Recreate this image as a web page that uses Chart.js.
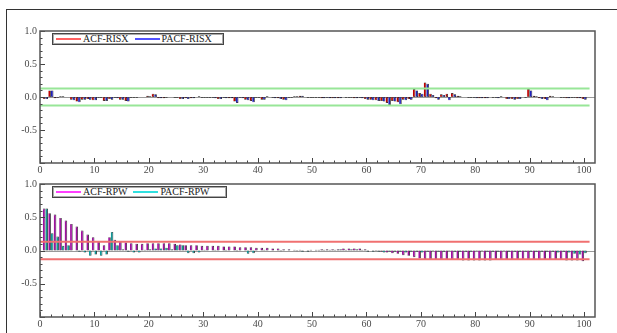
<!DOCTYPE html>
<html>
<head>
<meta charset="utf-8">
<script src="https://cdn.jsdelivr.net/npm/chart.js@4.4.1/dist/chart.umd.min.js"></script>
<style>
  html, body { margin: 0; padding: 0; background: #fff; overflow: hidden; }
  body { position: relative; width: 617px; height: 333px; }
  .frame { position: absolute; left: 6px; top: 9px; width: 640px; height: 360px; border: 1px solid #333; }
  canvas { position: absolute; left: 0; }
  .legend {
    position: absolute; box-sizing: border-box; border: 1px solid #444; box-shadow: inset 0 0 0 1px #aaa;
    background: #fff; display: flex; align-items: center; font: 10px "Liberation Serif", serif; color: #222;
    padding-left: 3px; white-space: nowrap; line-height: 10px; overflow: hidden;
  }
  .legend .key { display: inline-block; flex: none; width: 25px; height: 2px; margin-right: 2px; }
  .legend .gap { display: inline-block; flex: none; width: 6px; }
</style>
</head>
<body>
<div class="frame"></div>
<canvas id="risx" width="617" height="175" style="top:0"></canvas>
<canvas id="rpw" width="617" height="158" style="top:175px"></canvas>
<div class="legend" id="legendRisx" style="left:52px;top:33px;width:172px;height:12px"></div>
<div class="legend" id="legendRpw" style="left:52px;top:186px;width:175px;height:12px"></div>
<script>
const lags = Array.from({ length: 100 }, (_, i) => i + 1);
const xTicks = [0, 10, 20, 30, 40, 50, 60, 70, 80, 90, 100];
const yTicks = [-0.5, 0, 0.5, 1];
const confBand = 0.13;
const bandEnd = 101;

const acfRisx = [
  -0.03, 0.10, -0.02, 0.01, 0.00, -0.04, -0.07, -0.04, -0.03, -0.05,
  -0.01, -0.06, -0.03, -0.01, -0.04, -0.06, -0.01, -0.01, 0.00, 0.02,
  0.05, -0.02, -0.02, 0.00, -0.01, -0.03, -0.02, -0.02, 0.00, -0.01,
  -0.01, -0.01, -0.03, -0.01, -0.02, -0.07, -0.01, -0.04, -0.06, -0.01,
  -0.04, 0.01, -0.01, -0.02, -0.04, -0.01, 0.01, 0.02, 0.00, -0.01,
  -0.01, -0.02, -0.01, -0.02, -0.02, 0.00, -0.01, -0.02, -0.01, -0.03,
  -0.04, -0.05, -0.06, -0.09, -0.06, -0.08, -0.04, -0.03, 0.12, 0.06,
  0.22, 0.05, -0.02, 0.04, 0.05, 0.06, 0.02, 0.00, -0.01, -0.01,
  -0.02, -0.02, 0.00, -0.01, 0.01, -0.03, -0.03, -0.03, 0.00, 0.12,
  0.02, -0.02, -0.03, 0.02, 0.00, -0.01, -0.02, -0.01, -0.02, -0.03,
];
const pacfRisx = [
  -0.03, 0.10, -0.01, 0.01, 0.00, -0.05, -0.08, -0.04, -0.04, -0.05,
  -0.01, -0.06, -0.04, -0.02, -0.04, -0.07, -0.01, 0.00, 0.00, 0.01,
  0.04, -0.02, -0.01, 0.00, -0.01, -0.03, -0.03, -0.02, 0.01, -0.01,
  -0.01, -0.02, -0.03, -0.02, -0.02, -0.09, -0.02, -0.05, -0.08, -0.01,
  -0.04, 0.00, -0.02, -0.03, -0.05, -0.01, 0.01, 0.02, -0.01, -0.01,
  -0.01, -0.02, -0.02, -0.02, -0.02, -0.01, -0.01, -0.02, -0.02, -0.04,
  -0.05, -0.06, -0.07, -0.12, -0.07, -0.11, -0.05, -0.04, 0.10, 0.05,
  0.20, 0.03, -0.04, 0.03, -0.05, 0.04, 0.01, 0.00, -0.01, -0.02,
  -0.02, -0.02, -0.01, -0.02, 0.00, -0.03, -0.04, -0.03, -0.01, 0.10,
  0.01, -0.03, -0.05, 0.01, 0.00, -0.01, -0.02, -0.01, -0.02, -0.04,
];
const acfRpw = [
  0.63, 0.56, 0.54, 0.49, 0.45, 0.40, 0.36, 0.30, 0.24, 0.20,
  0.14, 0.08, 0.20, 0.16, 0.13, 0.12, 0.11, 0.10, 0.10, 0.11,
  0.11, 0.11, 0.11, 0.11, 0.10, 0.09, 0.08, 0.08, 0.08, 0.07,
  0.07, 0.07, 0.07, 0.06, 0.06, 0.06, 0.05, 0.05, 0.05, 0.04,
  0.04, 0.04, 0.03, 0.03, 0.02, 0.02, 0.01, 0.01, 0.00, 0.01,
  0.01, 0.02, 0.02, 0.02, 0.02, 0.03, 0.03, 0.03, 0.03, 0.02,
  0.00, -0.01, -0.02, -0.03, -0.04, -0.05, -0.07, -0.08, -0.10, -0.12,
  -0.13, -0.13, -0.14, -0.14, -0.14, -0.14, -0.14, -0.15, -0.15, -0.15,
  -0.15, -0.15, -0.15, -0.14, -0.14, -0.14, -0.14, -0.14, -0.14, -0.14,
  -0.14, -0.14, -0.14, -0.14, -0.14, -0.14, -0.15, -0.15, -0.15, -0.16,
];
const pacfRpw = [
  0.63, 0.26, 0.21, 0.07, 0.08, 0.00, -0.02, -0.03, -0.08, -0.06,
  -0.08, -0.06, 0.28, 0.08, 0.02, -0.02, -0.03, -0.03, 0.01, 0.02,
  0.03, 0.03, 0.04, 0.02, 0.08, 0.08, -0.04, -0.04, -0.03, 0.01,
  0.00, 0.01, 0.00, 0.01, 0.00, -0.01, 0.00, -0.05, -0.04, 0.00,
  0.01, 0.00, 0.00, -0.01, 0.00, 0.00, -0.01, -0.02, -0.02, 0.00,
  0.01, 0.01, 0.01, 0.01, 0.02, 0.01, 0.02, 0.02, 0.01, -0.02,
  -0.02, -0.02, -0.03, -0.02, -0.02, -0.02, -0.03, -0.02, -0.02, -0.03,
  -0.02, -0.01, -0.02, -0.02, -0.01, -0.02, -0.02, -0.02, -0.02, -0.01,
  -0.01, -0.02, -0.02, -0.02, -0.01, -0.02, -0.02, -0.02, -0.02, -0.02,
  -0.02, -0.02, -0.02, -0.02, -0.03, -0.02, -0.03, -0.05, -0.06, -0.04,
];

const tickFont = { family: '"Liberation Serif", serif', size: 10 };

// axis frame, inward ticks and the zero line, like the original package draws them
const frameTicks = {
  id: 'frameTicks',
  beforeDatasetsDraw(chart) {
    const { ctx, chartArea: a, scales: { y } } = chart;
    const py = Math.round(y.getPixelForValue(0)) + 0.5;
    ctx.save();
    ctx.strokeStyle = '#999';
    ctx.lineWidth = 1;
    ctx.beginPath();
    ctx.moveTo(a.left, py);
    ctx.lineTo(a.right, py);
    ctx.stroke();
    ctx.restore();
  },
  afterDraw(chart) {
    const { ctx, chartArea: a, scales: { x, y } } = chart;
    ctx.save();
    ctx.strokeStyle = '#444';
    ctx.lineWidth = 1;
    ctx.beginPath();
    for (let v = 0; v <= 100; v += 2) {
      const px = Math.round(x.getPixelForValue(v)) + 0.5;
      const len = v % 10 === 0 ? 5 : 2.5;
      ctx.moveTo(px, a.bottom);
      ctx.lineTo(px, a.bottom - len);
    }
    for (let i = -10; i <= 10; i++) {
      const py = Math.round(y.getPixelForValue(i / 10)) + 0.5;
      const len = i % 5 === 0 ? 5 : 2.5;
      ctx.moveTo(a.left, py);
      ctx.lineTo(a.left + len, py);
    }
    ctx.stroke();
    ctx.lineWidth = 1.5;
    ctx.strokeStyle = '#555';
    ctx.strokeRect(a.left, a.top, a.width, a.height);
    ctx.restore();
  },
};

function renderLegend(id, items) {
  document.getElementById(id).innerHTML = items
    .map((item, i) => `${i ? '<span class="gap"></span>' : ''}<span class="key" style="background:${item.color}"></span><span>${item.label}</span>`)
    .join('');
}

function renderCorrelogram(canvasId, opts) {
  const canvas = document.getElementById(canvasId);
  const band = (sign) => ({
    type: 'line',
    data: [{ x: 0, y: sign * confBand }, { x: bandEnd, y: sign * confBand }],
    borderColor: opts.bandColor,
    borderWidth: 2,
    pointRadius: 0,
    order: 0,
  });
  const bars = (values, color) => ({
    type: 'bar',
    data: lags.map((lag, i) => ({ x: lag, y: values[i] })),
    backgroundColor: color,
    borderColor: '#1a1a1a',
    borderWidth: { left: 0, right: 0.8, top: 0.6, bottom: 0.6 },
    borderSkipped: false,
    categoryPercentage: 0.95,
    barPercentage: 1,
    order: 1,
  });
  return new Chart(canvas, {
    type: 'bar',
    data: {
      datasets: [
        bars(opts.acf, opts.acfColor),
        bars(opts.pacf, opts.pacfColor),
        band(1),
        band(-1),
      ],
    },
    options: {
      responsive: false,
      animation: false,
      layout: { padding: { top: opts.top, right: 22, left: 0, bottom: 0 } },
      plugins: { legend: { display: false }, tooltip: { enabled: false } },
      scales: {
        x: {
          type: 'linear',
          offset: false,
          min: 0,
          max: 102,
          grid: { display: false, drawTicks: false, offset: false },
          border: { display: false },
          afterBuildTicks: (s) => { s.ticks = xTicks.map((value) => ({ value })); },
          afterFit: (s) => { s.height = opts.axisHeight; },
          ticks: { font: tickFont, color: '#4a4a4a', padding: 1, maxRotation: 0, autoSkip: false },
        },
        y: {
          min: -1,
          max: 1,
          grid: { display: false, drawTicks: false },
          border: { display: false },
          afterBuildTicks: (s) => { s.ticks = yTicks.map((value) => ({ value })); },
          afterFit: (s) => { s.width = 40; },
          ticks: { font: tickFont, color: '#4a4a4a', padding: 3, callback: (v) => Number(v).toFixed(1) },
        },
      },
    },
    plugins: [frameTicks],
  });
}

renderCorrelogram('risx', {
  acf: acfRisx, pacf: pacfRisx, acfColor: '#c00000', pacfColor: '#2020c0',
  bandColor: '#98e698', top: 31, axisHeight: 12,
});
renderCorrelogram('rpw', {
  acf: acfRpw, pacf: pacfRpw, acfColor: '#a010a0', pacfColor: '#109a9a',
  bandColor: '#f07070', top: 9, axisHeight: 16,
});
renderLegend('legendRisx', [{ label: 'ACF-RISX', color: '#ff6060' }, { label: 'PACF-RISX', color: '#5050ff' }]);
renderLegend('legendRpw', [{ label: 'ACF-RPW', color: '#ff40ff' }, { label: 'PACF-RPW', color: '#30e0e0' }]);
</script>
</body>
</html>
